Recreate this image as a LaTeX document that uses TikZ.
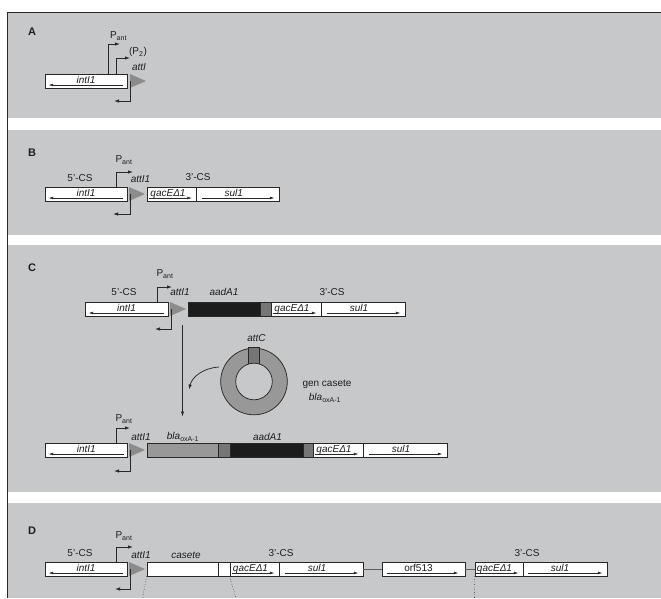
\documentclass[tikz,border=0pt]{standalone}
\usepackage{fontspec}
\setmainfont{Liberation Sans}
\usetikzlibrary{arrows.meta}
\definecolor{panelgray}{RGB}{199,200,202}
\definecolor{linec}{RGB}{40,40,40}
\definecolor{trigray}{RGB}{140,140,140}
\definecolor{medgray}{RGB}{152,152,152}
\definecolor{attgray}{RGB}{118,118,118}
\definecolor{blackbox}{RGB}{28,28,28}
\definecolor{txtc}{RGB}{30,30,30}
\tikzset{
  gbox/.style={draw=linec, fill=white, line width=0.75pt, minimum height=14pt, inner sep=0pt},
  lbl/.style={font=\fontsize{10}{12}\selectfont, inner sep=0pt, text=txtc},
  gene/.style={font=\fontsize{10}{12}\selectfont\itshape, inner sep=0pt, text=txtc},
  plet/.style={font=\fontsize{11}{13}\selectfont\bfseries, inner sep=0pt, text=txtc},
  garrow/.style={-{Latex[length=4.5pt,width=2.8pt]}, line width=0.55pt, draw=linec},
  prom/.style={-{Latex[length=5pt,width=3.4pt]}, line width=0.75pt, draw=linec},
  link/.style={line width=1pt, draw=linec!75},
  dotl/.style={dotted, line width=0.6pt, draw=linec}
}
\newcommand\genebx[5]{\node[gbox,#5,minimum width={(#3-#2)*1pt}] (#1) at ({(#2+#3)/2},#4) {};}
\newcommand\lgene[2]{%
  \draw[garrow] ([xshift=-4pt,yshift=-4pt]#1.east) -- ([xshift=4pt,yshift=-4pt]#1.west);
  \node[gene,anchor=base] at ([yshift=-2.5pt]#1.center) {#2};}
\newcommand\rgene[5]{%
  \draw[garrow] ([xshift=#3pt,yshift=-4pt]#1.west) -- ([xshift=-#4pt,yshift=-4pt]#1.east);
  \node[gene,anchor=base] at ([xshift=#5pt,yshift=-2.5pt]#1.center) {#2};}
\newcommand\atttri[2]{\fill[trigray] (#1,{#2-7}) -- ({#1+16},#2) -- (#1,{#2+7}) -- cycle;}
\begin{document}
\begin{tikzpicture}[x=1pt,y=-1pt]
\useasboundingbox (0,0) rectangle (661,598);
\fill[white] (0,0) rectangle (661,598);
% panels
\fill[panelgray] (7,12) rectangle (661,118);
\fill[panelgray] (7,130) rectangle (661,235);
\fill[panelgray] (7,245) rectangle (661,492);
\fill[panelgray] (7,503) rectangle (661,598);
\draw[linec, line width=0.8pt] (661,12) -- (7,12) -- (7,598);

% ---------------- Panel A
\node[plet] (lA) at (32,32) {A};
\genebx{A-int}{45}{127}{81}{}
\lgene{A-int}{intI1}
\atttri{130}{81}
\draw[prom] (108,74) |- (120,44);
\node[lbl] (A-pant) at (118.5,36) {P\textsubscript{ant}};
\draw[prom] (116,74) |- (130,58);
\node[lbl] (A-p2) at (138,52) {(P\textsubscript{2})};
\node[gene] (A-att) at (139,67) {attI};
\draw[prom] (130,81) |- (114,101);

% ---------------- Panel B
\node[plet] (lB) at (32,153) {B};
\genebx{B-int}{45}{127}{194}{}
\lgene{B-int}{intI1}
\atttri{129}{194}
\genebx{B-qac}{147.5}{196.5}{194}{}
\rgene{B-qac}{qacEΔ1}{2}{5}{-4}
\genebx{B-sul}{196.5}{279}{194}{}
\rgene{B-sul}{sul1}{6}{5}{-4}
\draw[prom] (116,187) |- (133,172);
\node[lbl] (B-pant) at (124,160) {P\textsubscript{ant}};
\node[lbl] (B-5cs) at (80,178) {5'-CS};
\node[gene] (B-att) at (140.5,179) {attI1};
\node[lbl] (B-3cs) at (198,177) {3'-CS};
\draw[prom] (130.5,194) |- (113,214);

% ---------------- Panel C (top)
\node[plet] (lC) at (32,268) {C};
\genebx{C1-int}{85}{168}{309}{}
\lgene{C1-int}{intI1}
\atttri{170}{309}
\genebx{C1-aad}{188}{260}{309}{fill=blackbox}
\genebx{C1-attc}{260}{271}{309}{fill=attgray}
\genebx{C1-qac}{271}{321}{309}{}
\rgene{C1-qac}{qacEΔ1}{2}{5}{-4}
\genebx{C1-sul}{321}{405}{309}{}
\rgene{C1-sul}{sul1}{6}{5}{-4}
\draw[prom] (157,302) |- (172,287);
\node[lbl] (C1-pant) at (165,274) {P\textsubscript{ant}};
\node[lbl] (C1-5cs) at (124,292) {5'-CS};
\node[gene] (C1-att) at (180,292) {attI1};
\node[gene] (C1-aadl) at (224,292) {aadA1};
\node[lbl] (C1-3cs) at (332,292) {3'-CS};
\draw[prom] (171,309) |- (155,329);

% insertion arrow and cassette circle
\coordinate (ins-top) at (182.5,325);
\coordinate (ins-bot) at (182.5,416.5);
\draw[prom] (ins-top) -- (ins-bot);
\fill[medgray, even odd rule] (254,381.5) circle (33.3pt) (254,381.5) circle (18.3pt);
\draw[linec, line width=0.75pt] (254,381.5) circle (33.3pt);
\filldraw[fill=attgray, draw=linec, line width=0.75pt] (248.5,347) rectangle (259.5,365.5);
\draw[linec, line width=0.75pt, fill=panelgray] (254,381.5) circle (18.3pt);
\node[gene] (attC) at (256.5,338) {attC};
\node[lbl] (gcas) at (327,384) {gen casete};
\node[lbl] (gbla) at (325,398) {\textit{bla}\textsubscript{oxA-1}};
\coordinate (cur-a) at (219,367);
\coordinate (cur-b) at (189,389.5);
\draw[prom] (cur-a) .. controls (203,368) and (192,377) .. (cur-b);

% ---------------- Panel C (bottom)
\genebx{C2-int}{45}{127.5}{450}{}
\lgene{C2-int}{intI1}
\atttri{129}{450}
\genebx{C2-bla}{147}{218}{450}{fill=medgray}
\genebx{C2-att1}{218}{230}{450}{fill=attgray}
\genebx{C2-aad}{230}{303}{450}{fill=blackbox}
\genebx{C2-att2}{303}{313}{450}{fill=attgray}
\genebx{C2-qac}{313}{363}{450}{}
\rgene{C2-qac}{qacEΔ1}{2}{5}{-4}
\genebx{C2-sul}{363}{447}{450}{}
\rgene{C2-sul}{sul1}{6}{5}{-4}
\draw[prom] (116,443) |- (130,428);
\node[lbl] (C2-pant) at (124,419) {P\textsubscript{ant}};
\node[gene] (C2-att) at (141,437) {attI1};
\node[lbl] (C2-blal) at (183,437) {\textit{bla}\textsubscript{oxA-1}};
\node[gene] (C2-aadl) at (267.5,437) {aadA1};
\draw[prom] (130,450) |- (114,471);

% ---------------- Panel D
\node[plet] (lD) at (32,531) {D};
\genebx{D-int}{45}{127}{569}{}
\lgene{D-int}{intI1}
\atttri{129}{569}
\genebx{D-cas}{147}{218}{569}{}
\genebx{D-cas2}{218}{230}{569}{}
\genebx{D-qac}{230}{279}{569}{}
\rgene{D-qac}{qacEΔ1}{2}{5}{-4}
\genebx{D-sul}{279}{363}{569}{}
\rgene{D-sul}{sul1}{6}{5}{-4}
\genebx{D-orf}{382}{465}{569}{}
\draw[garrow] ([xshift=5pt,yshift=-4pt]D-orf.west) -- ([xshift=-7pt,yshift=-4pt]D-orf.east);
\node[lbl,anchor=base] (D-orfl) at ([xshift=-5pt,yshift=-2.5pt]D-orf.center) {orf513};
\genebx{D-qac2}{475}{523}{569}{}
\rgene{D-qac2}{qacEΔ1}{1.5}{5}{-4.5}
\genebx{D-sul2}{523}{607}{569}{}
\rgene{D-sul2}{sul1}{5}{5}{-5}
\draw[link] (D-sul.east) -- (D-orf.west);
\draw[link] (D-orf.east) -- (D-qac2.west);
\draw[prom] (116,562) |- (133,547);
\node[lbl] (D-pant) at (124,536) {P\textsubscript{ant}};
\node[lbl] (D-5cs) at (80,553) {5'-CS};
\node[gene] (D-att) at (141,555) {attI1};
\node[gene] (D-casl) at (186,555) {casete};
\node[lbl] (D-3cs) at (281,553) {3'-CS};
\node[lbl] (D-3cs2) at (527,553) {3'-CS};
\draw[prom] (130,569) |- (115,589);
\coordinate (dt1) at (142.5,598);
\coordinate (dt2) at (236,598);
\coordinate (dt3) at (474.5,598);
\draw[dotl] (D-cas.south west) -- (dt1);
\draw[dotl] (D-qac.south west) -- (dt2);
\draw[dotl] (D-qac2.south west) -- (dt3);
\end{tikzpicture}
\end{document}
